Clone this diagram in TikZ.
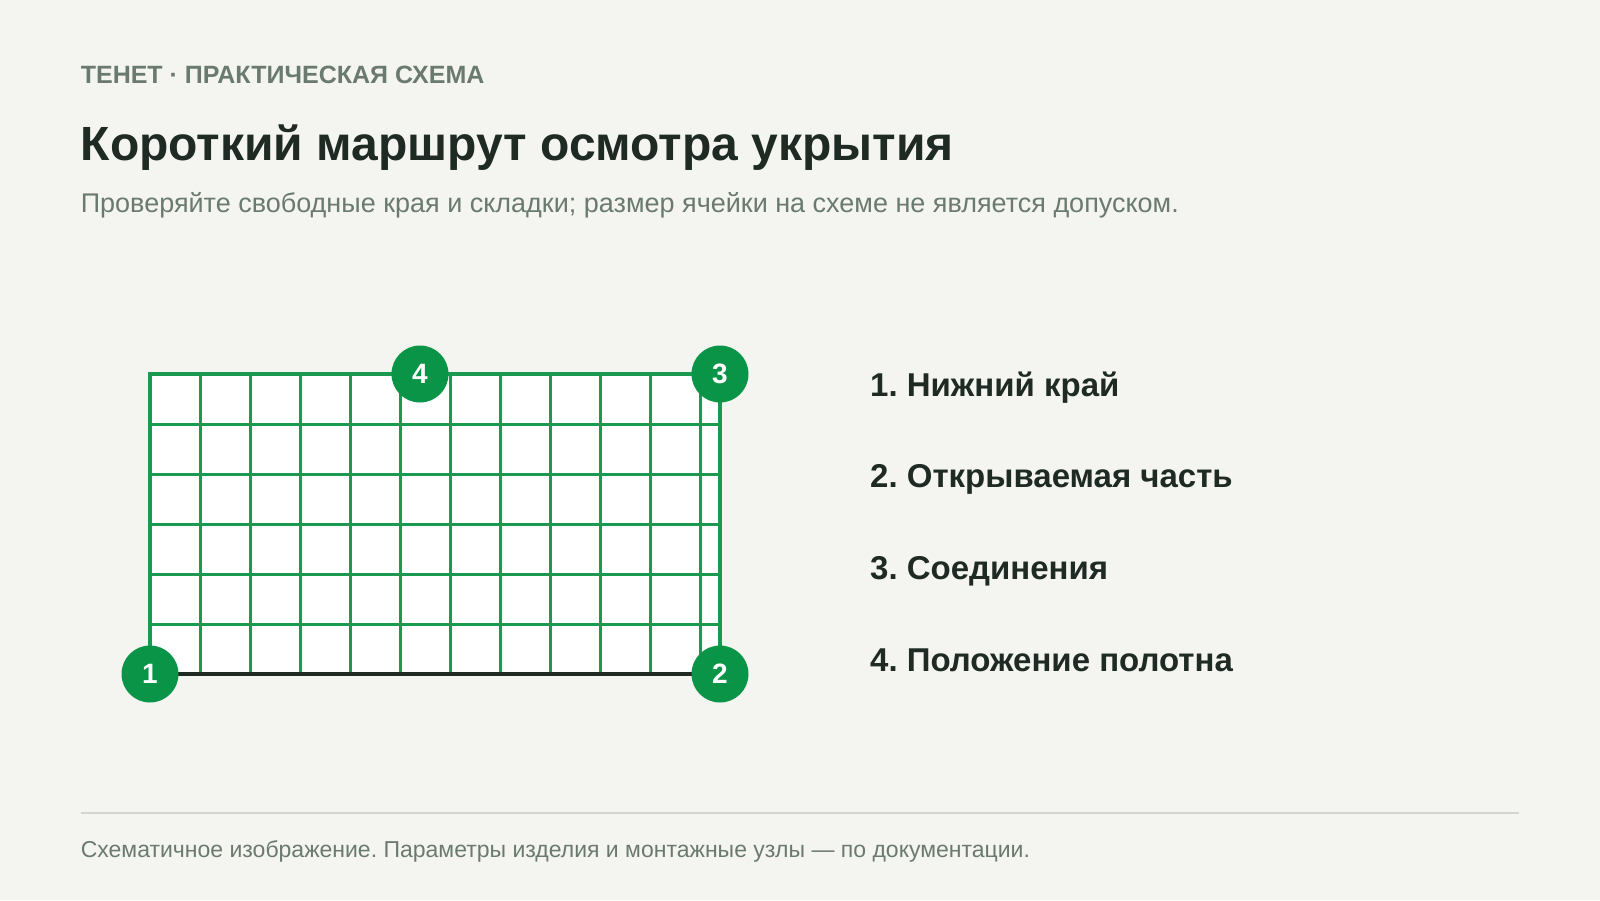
\documentclass[tikz,border=0pt]{standalone}
\usepackage{fontspec}
\setmainfont{Liberation Sans}
\frenchspacing
\definecolor{bg}{HTML}{F4F5F0}
\definecolor{ink}{HTML}{1F2A24}
\definecolor{muted}{HTML}{6B7A6E}
\definecolor{mesh}{HTML}{1A9A50}
\definecolor{badge}{HTML}{0A9447}
\definecolor{rulec}{HTML}{D3D6D0}
\tikzset{
  hdr/.style={anchor=base west, inner sep=0pt, text=muted, font=\fontsize{25}{30}\selectfont\bfseries},
  ttl/.style={anchor=base west, inner sep=0pt, text=ink, font=\fontsize{48}{56}\selectfont\bfseries},
  sub/.style={anchor=base west, inner sep=0pt, text=muted, font=\fontsize{27}{32}\selectfont},
  item/.style={anchor=base west, inner sep=0pt, text=ink, font=\fontsize{33}{40}\selectfont\bfseries},
  foot/.style={anchor=base west, inner sep=0pt, text=muted, font=\fontsize{23}{28}\selectfont},
  meshline/.style={draw=mesh, line width=3pt},
  badgec/.style={circle, fill=badge, minimum size=57pt, inner sep=0pt, text=white, font=\fontsize{28}{32}\selectfont\bfseries},
}
\begin{document}
\begin{tikzpicture}[x=1pt,y=-1pt]
\fill[bg] (0,0) rectangle (1600,900);
\useasboundingbox (0,0) rectangle (1600,900);

\node[hdr] (h) at (80.6,83.7) {ТЕНЕТ · ПРАКТИЧЕСКАЯ СХЕМА};
\node[ttl] (t) at (80.6,160) {Короткий маршрут осмотра укрытия};
\node[sub] (s) at (80.6,212) {Проверяйте свободные края и складки; размер ячейки на схеме не является допуском.};

% mesh
\coordinate (p1) at (150,674);
\coordinate (p2) at (720,674);
\coordinate (p3) at (720,374);
\coordinate (p4) at (420,374);
\coordinate (tl) at (150,374);
\fill[white] (tl) rectangle (p2);
\foreach \x in {200,250,...,700} \draw[meshline] (\x,374) -- (\x,674);
\foreach \y in {424,474,...,624} \draw[meshline] (150,\y) -- (720,\y);
\draw[draw=mesh, line width=3.5pt] (p1) -- (tl) -- (p3) -- (p2);
\draw[draw=ink, line width=4pt] (p1) -- (p2);

\node[badgec] (c1) at (p1) {1};
\node[badgec] (c2) at (p2) {2};
\node[badgec] (c3) at (p3) {3};
\node[badgec] (c4) at (p4) {4};

\node[item] (i1) at (870,396) {1. Нижний край};
\node[item] (i2) at (870,487.8) {2. Открываемая часть};
\node[item] (i3) at (870,579.6) {3. Соединения};
\node[item] (i4) at (870,671.4) {4. Положение полотна};

\coordinate (rl) at (80.6,813);
\coordinate (rr) at (1519,813);
\draw[rulec, line width=1.5pt] (rl) -- (rr);
\node[foot] (f) at (80.6,857) {Схематичное изображение. Параметры изделия и монтажные узлы — по документации.};
\end{tikzpicture}
\end{document}
